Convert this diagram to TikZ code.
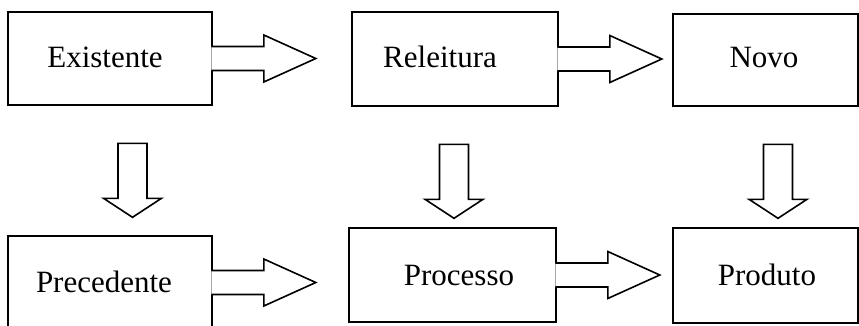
\documentclass[tikz,border=0pt]{standalone}
\usepackage{fontspec}
\setmainfont{Liberation Serif}
\usetikzlibrary{calc}

\tikzset{
box/.style={draw, line width=1.6pt, minimum width=204pt, minimum height=93pt, inner sep=0pt},
txt/.style={anchor=base, inner sep=0pt, font=\fontsize{31}{37}\selectfont},
blockarrow/.style={draw, line width=1.6pt, fill=white, line join=miter}
}

\begin{document}
\begin{tikzpicture}[x=1pt,y=1pt]
\clip (0,0) rectangle (859,325);
\node[box] (ex) at (110,266.5){};
\node[box, minimum width=206pt, minimum height=94pt] (rel) at (455,266){};
\node[box, minimum width=185pt, minimum height=92pt] (novo) at (765.5,265){};
\node[box] (prec) at (110,42.5){};
\node[box, minimum width=207pt, minimum height=94pt] (proc) at (452.5,50){};
\node[box, minimum width=185pt, minimum height=95pt] (prod) at (765.5,49.5){};
\foreach \from in {ex,rel,prec,proc}
\draw[blockarrow] ($(\from.east)+(-1.5,12)$) -- ++(52.5,0) -- ++(0,11.5) -- ++(52,-23.5) -- ++(-52,-23.5) -- ++(0,11.5) -- ++(-52.5,0);
\foreach \from/\dx in {ex/22.5,rel/-1,novo/12.5}
\draw[blockarrow] ($(\from.south)+(\dx-14.5,-37.5)$) -- ++(29,0) -- ++(0,-55) -- ++(14.5,0) -- ++(-29,-19) -- ++(-29,19) -- ++(14.5,0) -- cycle;
\node[txt] (exT) at (105,258){Existente};
\node[txt] (relT) at (440,258){Releitura};
\node[txt] (novoT) at (764,258){Novo};
\node[txt] (precT) at (104,33){Precedente};
\node[txt] (procT) at (459,40){Processo};
\node[txt] (prodT) at (767,40){Produto};
\end{tikzpicture}
\end{document}
